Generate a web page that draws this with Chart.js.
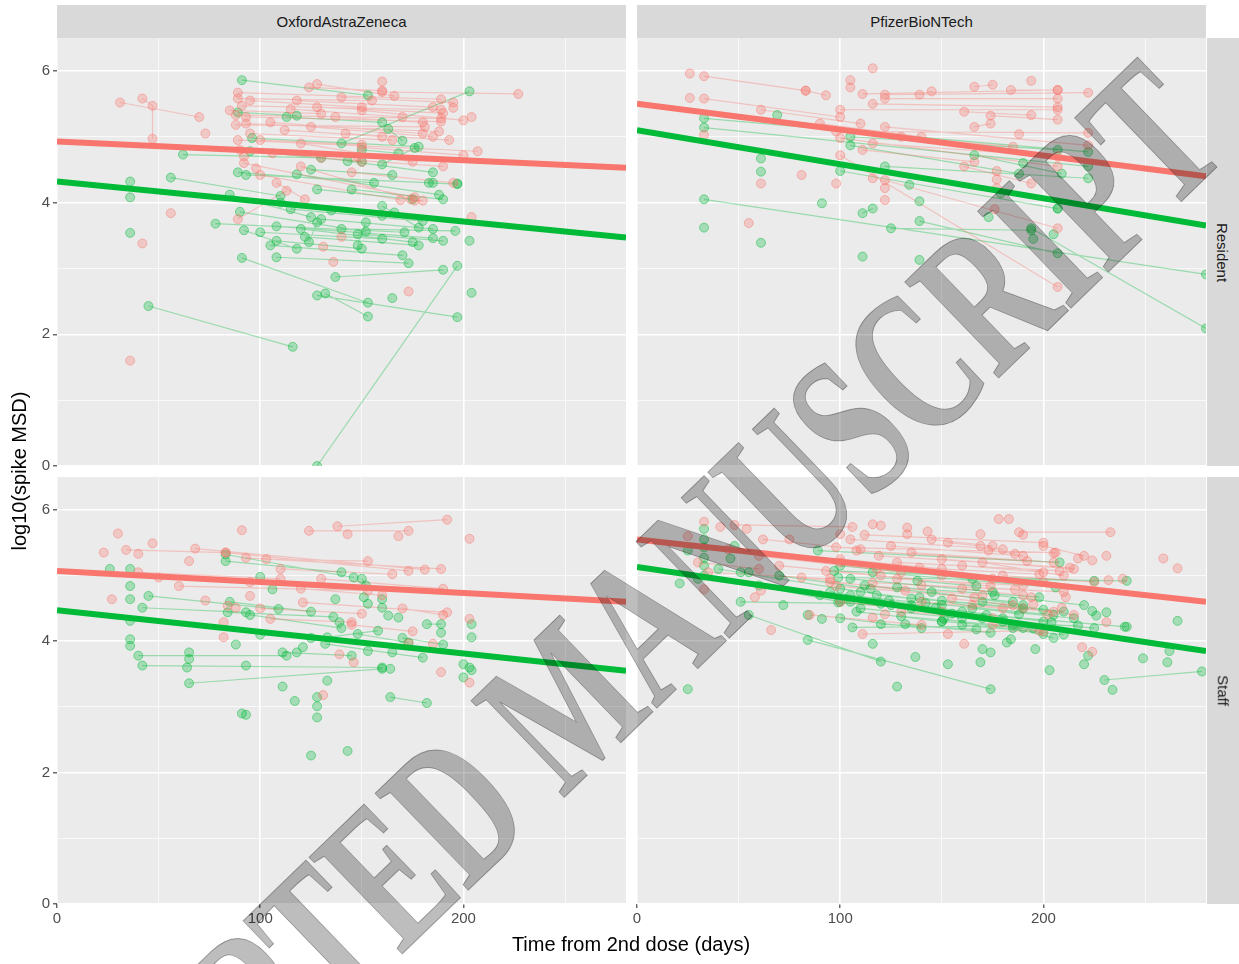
<!DOCTYPE html>
<html>
<head>
<meta charset="utf-8">
<script src="https://cdn.jsdelivr.net/npm/chart.js@4.4.1/dist/chart.umd.min.js"></script>
<style>
  body { margin: 0; background: #fff; }
  #wrap { position: relative; width: 1239px; height: 964px; overflow: hidden; font-family: "Liberation Sans", Arial, sans-serif; }
  #wrap canvas { position: absolute; left: 0; top: 0; }
  .strip { position: absolute; background: #d9d9d9; color: #1a1a1a; font-size: 15px; display: flex; align-items: center; justify-content: center; }
  .strip.side span { transform: rotate(90deg); white-space: nowrap; }
  .title { position: absolute; color: #000; font-size: 20px; white-space: nowrap; }
  #watermark { position: absolute; left: 565px; top: 700px; transform: translate(-50%, -50%) rotate(-44deg) scaleX(0.67);
    font-family: "Liberation Serif", "Times New Roman", serif; font-weight: bold; font-size: 205px; line-height: 1; white-space: nowrap;
    color: rgba(0, 0, 0, 0.26); -webkit-text-stroke: 1px rgba(30, 30, 30, 0.4); pointer-events: none; z-index: 10; }
</style>
</head>
<body>
<div id="wrap">
  <canvas id="azResident" width="1239" height="964"></canvas>
  <canvas id="pfResident" width="1239" height="964"></canvas>
  <canvas id="azStaff" width="1239" height="964"></canvas>
  <canvas id="pfStaff" width="1239" height="964"></canvas>

  <div class="strip" style="left:57px; top:5px; width:569px; height:33px;">OxfordAstraZeneca</div>
  <div class="strip" style="left:637px; top:5px; width:569px; height:33px;">PfizerBioNTech</div>
  <div class="strip side" style="left:1207px; top:38px; width:32px; height:428px;"><span>Resident</span></div>
  <div class="strip side" style="left:1207px; top:477px; width:32px; height:427px;"><span>Staff</span></div>

  <div class="title" style="left:631px; top:944px; transform:translate(-50%,-50%);">Time from 2nd dose (days)</div>
  <div class="title" style="left:19px; top:471px; transform:translate(-50%,-50%) rotate(-90deg);">log10(spike MSD)</div>

  <div id="watermark">ACCEPTED MANUSCRIPT</div>
</div>

<script>
// axis ranges / ticks
const xMax = 280;
const yMax = 6.5;
const xStep = 50;   // minor grid every 50 days, labels every 100
const yStep = 1;    // minor grid every 1, labels every 2
const fitX = [0, 280];

// each subject = [x1, y1, x2, y2, ...] (days, log10 spike MSD)
const azResidentRed = [
  [31,5.52,70,5.30], [42,5.58,47,5.47,47,4.97], [36,1.60], [56,3.84], [42,3.38], [73,5.05],
  [89,5.67,189,5.57], [89,5.58,155,5.55], [91,5.47,189,5.41], [88,5.33,189,5.28], [93,5.30,189,5.23],
  [88,5.18,181,5.15], [93,5.20,188,5.08], [124,5.75,160,5.70], [128,5.80,166,5.62], [160,5.84],
  [160,5.68,227,5.65], [204,5.30], [195,5.44], [89,4.95,207,4.78], [90,4.80,150,4.62],
  [92,4.60,176,4.08], [108,4.30,122,4.05], [100,4.42,169,4.04], [89,3.75,113,4.18], [120,4.55,174,4.05],
  [131,3.33], [136,3.10], [140,3.48], [173,2.65], [204,3.78], [150,4.84,200,4.72], [142,5.05,193,4.95],
  [115,5.42,170,5.30], [105,5.22,180,5.05], [128,5.45,190,5.36], [137,5.30,180,5.22], [112,5.10,160,5.00],
  [95,5.05,165,4.95], [120,4.90,175,4.62], [130,4.68,190,4.55], [145,4.46,195,4.30], [106,4.75,148,4.70],
  [92,4.70], [98,4.52], [176,4.03,180,4.03], [85,5.40,130,5.35], [95,5.55,150,5.45], [118,5.55,185,5.45],
  [140,5.60,195,5.52], [100,4.95,150,4.88], [125,5.15,185,5.00], [150,5.40,200,5.25]
];
const azResidentGreen = [
  [91,5.86,153,5.63], [140,4.90,203,5.69], [89,5.37,118,5.32], [113,5.30,160,5.22], [163,5.12,170,4.94],
  [96,4.98,178,4.85], [62,4.73,130,4.68], [95,4.78,150,4.62], [89,4.46,156,4.30], [93,4.42,185,4.30],
  [56,4.38,110,4.10], [36,4.32], [36,4.08], [36,3.54], [45,2.43,116,1.81], [128,0.00,197,3.04],
  [118,4.43,188,4.12], [128,4.20,175,4.05], [85,4.12,125,3.78], [90,3.86,152,3.56], [78,3.68,171,3.55],
  [92,3.58,118,3.30], [108,3.64,185,3.46], [108,3.42,150,3.30], [120,3.60,175,3.40], [122,3.48,178,3.35],
  [148,3.52,190,3.42], [140,3.60,196,3.57], [108,3.17,173,3.08], [91,3.16,153,2.48], [137,2.87,190,2.98],
  [132,2.62,153,2.27], [128,2.59,197,2.26], [165,2.55], [204,2.63], [203,3.42], [197,4.29],
  [183,4.30,197,4.28], [143,4.63,185,4.46], [150,4.80,168,4.75], [160,4.58,176,4.83], [135,3.88,166,3.85],
  [160,3.95,178,3.62], [124,3.40,128,3.70], [148,3.35,152,3.70], [110,4.00,160,3.80], [115,3.90,180,3.72],
  [130,3.75,185,3.60], [100,3.55,160,3.45], [125,4.50,165,4.42], [105,3.35,170,3.20], [145,4.20,190,4.05]
];
const pfResidentRed = [
  [26,5.96], [33,5.92,83,5.70], [26,5.59], [33,5.58,100,5.30], [33,5.03], [61,5.41,110,5.20], [61,4.29],
  [55,3.69], [81,4.42], [83,5.70,93,5.63], [105,5.86], [105,5.75], [116,6.04], [111,5.65,207,5.71],
  [122,5.64,222,5.67], [122,5.58,207,5.58], [139,5.64,145,5.69], [166,5.76,175,5.79], [184,5.71,207,5.71],
  [194,5.85], [100,5.41,207,5.41], [116,5.50,207,5.45], [161,5.38,194,5.33], [174,5.32,207,5.26],
  [98,5.08,222,5.06], [122,5.15,222,4.87], [188,5.04], [100,4.98,207,4.55], [116,4.90,207,4.70],
  [166,5.15,174,5.20], [100,4.72,207,2.72], [161,4.55,194,4.29], [177,4.48], [177,4.35], [177,4.22],
  [176,3.90], [122,4.34,207,3.61], [116,4.37], [122,4.22], [122,4.04], [98,4.29], [111,4.80,166,4.62],
  [130,5.00,185,4.85], [90,5.20,140,5.00]
];
const pfResidentGreen = [
  [33,5.28,222,4.77], [33,5.14,222,4.55], [69,5.33], [61,4.67], [61,4.47], [33,4.05,280,2.91], [33,3.62],
  [61,3.39], [91,3.99], [111,3.84,116,3.91], [111,3.18], [139,3.13], [105,5.00,207,4.80], [105,4.87,188,4.44],
  [122,4.55,222,4.37], [134,4.27], [139,4.02], [139,3.72,207,3.23], [125,3.61,194,3.58], [100,4.48,207,3.91],
  [166,4.72,209,4.44], [190,4.60], [179,4.14], [173,3.78], [194,3.61,280,2.09], [195,3.45], [205,3.52],
  [207,3.91]
];
const azStaffRed = [
  [23,5.35], [30,5.64], [34,5.39,83,5.35], [40,5.33], [47,5.49], [68,5.41,181,5.09], [65,5.22], [27,4.64],
  [91,5.69], [124,5.68,173,5.68], [138,5.75,192,5.85], [143,5.63], [168,5.60], [203,5.56], [83,5.35,173,5.07],
  [93,5.27,189,5.10], [103,5.25,153,5.22], [60,4.84,153,4.77], [73,4.62], [84,4.54], [95,4.69],
  [121,4.59,192,4.44], [131,3.18], [146,3.68], [189,3.53], [203,4.34], [203,3.37], [185,3.96],
  [105,4.34,145,4.29], [82,4.29], [82,4.06], [173,3.97], [139,3.80], [88,4.51], [40,5.05,110,4.95],
  [50,4.97,95,4.90], [110,5.10,165,5.02], [120,4.80,160,4.70], [130,4.95,190,4.80], [100,4.50,150,4.42],
  [170,4.50,190,4.40], [145,4.25,175,4.15]
];
const azStaffGreen = [
  [36,5.10], [36,4.84], [36,4.64], [36,4.31], [36,4.03], [36,3.93], [26,5.10], [40,3.78,113,3.78],
  [42,3.63,160,3.60], [45,4.69,109,4.49], [42,4.51,93,4.44], [65,3.83], [65,3.73], [65,3.36,160,3.58],
  [64,3.60], [93,3.63], [83,5.32,146,4.97], [83,5.22,140,5.05], [91,2.90], [93,2.88], [111,3.31], [117,3.09],
  [128,3.15], [128,3.01], [128,2.84], [125,2.26], [143,2.33], [133,3.40], [164,3.15,182,3.06], [100,4.98],
  [106,4.79], [84,4.44,136,4.37], [88,3.95], [111,3.83,145,3.78], [118,3.83], [121,3.91], [132,3.96,180,3.75],
  [137,4.64], [151,4.67], [153,4.57], [160,4.64], [160,4.51], [163,4.39], [168,4.36], [182,4.26,189,4.26],
  [189,4.13], [204,4.26], [204,4.06], [200,3.65], [203,3.60], [204,3.56], [200,3.45], [153,3.85], [165,3.83],
  [164,3.58], [148,4.11,173,3.98], [139,4.29], [133,4.06,158,4.16], [95,4.40,140,4.20], [100,4.10,125,4.05],
  [85,4.60,125,4.45], [150,4.95,152,4.85], [170,4.05,190,3.95]
];
const pfStaffRed = [
  [33,5.82], [25,5.60], [41,5.74], [48,5.77,106,5.74], [54,5.71], [75,5.55], [100,5.63], [116,5.78],
  [120,5.76], [133,5.73], [133,5.63], [143,5.67], [188,5.66,233,5.66], [178,5.86], [183,5.86], [169,5.63],
  [190,5.62], [205,5.34], [217,5.26], [224,5.23], [231,5.30], [259,5.26], [266,5.11], [232,4.93], [239,4.95],
  [219,3.91], [224,3.84], [111,4.11,198,4.16], [66,4.17], [58,4.67], [61,4.77], [33,4.79], [161,3.96],
  [209,4.51], [231,4.29], [98,5.43,206,5.35], [108,5.38,192,5.22], [119,5.30,213,5.12], [128,5.20,208,5.07],
  [139,5.12,198,5.02], [153,5.50,169,5.45], [173,5.38,186,5.33], [93,5.07,174,4.84], [98,4.84,166,4.67],
  [116,4.89,186,4.79], [81,4.97,132,4.77], [116,4.36], [122,4.41], [153,4.11], [194,4.67], [195,4.56],
  [211,4.67], [202,4.41], [30,5.20,60,5.10], [35,5.05,95,4.95], [45,5.40,100,5.20], [60,5.30,130,5.05],
  [150,5.00,200,4.90], [160,4.80,190,4.70], [140,4.60,180,4.50], [170,5.20,210,5.00], [130,4.45,175,4.35],
  [100,4.60,150,4.45], [200,5.45,220,5.30], [105,5.55,180,5.40], [112,5.62,200,5.50], [125,5.45,190,5.30],
  [135,5.35,205,5.20], [145,5.55,175,5.45], [150,5.25,215,5.10], [160,5.15,200,5.05], [100,5.25,150,5.10],
  [118,5.10,175,4.95], [128,4.95,190,4.85], [140,4.85,210,4.75], [165,4.55,205,4.45], [180,5.00,225,4.90],
  [190,4.50,215,4.40], [62,5.55,110,5.40], [70,5.15,120,5.00], [85,4.40,140,4.25], [95,4.90,170,4.70],
  [155,4.65,185,4.55], [175,4.25,200,4.15]
];
const pfStaffGreen = [
  [33,5.71], [33,5.55], [33,5.43], [33,5.27], [33,5.15], [25,5.38], [21,4.88], [25,3.27], [46,5.26],
  [48,5.45], [51,5.05], [55,5.05], [51,4.60,120,4.57], [55,4.40,120,3.69], [72,4.55], [84,4.40],
  [84,4.02,174,3.27], [91,4.34], [89,5.38,208,5.20], [97,5.07,225,4.92], [99,4.97,241,4.92], [99,4.59,241,4.22],
  [106,4.21,217,4.24], [116,3.96], [128,3.31], [137,3.76], [153,3.65], [169,3.68], [170,3.88], [174,3.83],
  [196,3.88], [203,3.56], [220,3.65], [222,3.78], [230,3.41,278,3.54], [234,3.26], [249,3.74], [261,3.68],
  [262,3.85], [266,4.31], [182,3.98], [184,4.03], [224,4.46], [226,4.39], [231,4.44], [240,4.22],
  [116,5.05,206,4.82], [128,4.82,198,4.67], [139,4.67,188,4.41], [147,4.51,204,4.29], [151,4.34,200,4.11],
  [132,4.26,174,4.13], [120,4.26,167,4.18], [138,4.92,167,4.84], [33,5.00,100,4.60], [40,5.10,110,4.75],
  [30,4.95,90,4.70], [105,4.70,150,4.55], [110,4.50,160,4.35], [125,4.55,180,4.30], [160,4.45,200,4.30],
  [145,4.75,190,4.55], [170,4.60,210,4.45], [150,4.30,190,4.20], [100,4.80,135,4.65], [100,5.15,165,4.95],
  [105,4.95,175,4.75], [112,4.85,185,4.60], [118,4.70,190,4.50], [124,4.62,172,4.40], [130,4.38,195,4.20],
  [135,4.50,180,4.35], [142,4.58,205,4.40], [150,4.62,200,4.48], [155,4.42,185,4.25], [160,4.25,210,4.10],
  [165,4.50,215,4.35], [170,4.35,225,4.20], [100,4.35,140,4.20], [95,4.75,135,4.55], [108,4.45,150,4.30],
  [176,4.70,220,4.55], [185,4.20,205,4.05], [60,4.85,105,4.60], [70,5.00,115,4.80]
];

// fitted lines, y at fitX
const azResidentFitRed = [4.93, 4.53];
const azResidentFitGreen = [4.32, 3.47];
const pfResidentFitRed = [5.50, 4.40];
const pfResidentFitGreen = [5.10, 3.65];
const azStaffFitRed = [5.07, 4.60];
const azStaffFitGreen = [4.47, 3.55];
const pfStaffFitRed = [5.55, 4.60];
const pfStaffFitGreen = [5.13, 3.85];

const RED = '#F8766D';
const GREEN = '#00BA38';
const tickFont = { family: '"Liberation Sans", Arial, sans-serif', size: 15 };

// grey panel background, like ggplot
const panelBg = {
  id: 'panelBg',
  beforeDraw(chart) {
    const { ctx, chartArea: a } = chart;
    ctx.save();
    ctx.fillStyle = '#ebebeb';
    ctx.fillRect(a.left, a.top, a.right - a.left, a.bottom - a.top);
    ctx.restore();
  }
};

function linePoints(subjects) {
  const out = [];
  subjects.forEach(s => {
    for (let i = 0; i < s.length; i += 2) out.push({ x: s[i], y: s[i + 1] });
    out.push({ x: null, y: null });
  });
  return out;
}
function dotPoints(subjects) {
  const out = [];
  subjects.forEach(s => {
    for (let i = 0; i < s.length; i += 2) out.push({ x: s[i], y: s[i + 1] });
  });
  return out;
}

function makePanel(id, red, green, fitRed, fitGreen, box, showX, showY) {
  const ctx = document.getElementById(id).getContext('2d');
  // axis boxes take the space left of / below the panel when they carry labels
  const yWidth = showY ? box[0] : 0;
  const xHeight = showX ? 964 - box[3] : 0;
  const datasets = [
    { data: fitX.map((x, i) => ({ x: x, y: fitRed[i] })), showLine: true, borderColor: RED, borderWidth: 6, pointRadius: 0, order: 1 },
    { data: fitX.map((x, i) => ({ x: x, y: fitGreen[i] })), showLine: true, borderColor: GREEN, borderWidth: 6, pointRadius: 0, order: 1 },
    { data: dotPoints(red), pointRadius: 4.5, backgroundColor: 'rgba(248,118,109,0.3)', borderColor: 'rgba(248,118,109,0.45)', borderWidth: 1, order: 3 },
    { data: dotPoints(green), pointRadius: 4.5, backgroundColor: 'rgba(0,186,56,0.3)', borderColor: 'rgba(0,186,56,0.45)', borderWidth: 1, order: 3 },
    { data: linePoints(red), showLine: true, borderColor: 'rgba(248,118,109,0.35)', borderWidth: 1.2, pointRadius: 0, order: 5 },
    { data: linePoints(green), showLine: true, borderColor: 'rgba(0,186,56,0.35)', borderWidth: 1.2, pointRadius: 0, order: 5 }
  ];
  return new Chart(ctx, {
    type: 'scatter',
    data: { datasets: datasets },
    options: {
      responsive: false,
      animation: false,
      events: [],
      layout: { padding: { left: box[0] - yWidth, top: box[1], right: 1239 - box[2], bottom: 964 - box[3] - xHeight } },
      plugins: { legend: { display: false }, tooltip: { enabled: false } },
      scales: {
        x: {
          type: 'linear', min: 0, max: xMax,
          border: { display: false },
          grid: {
            color: '#ffffff',
            lineWidth: c => (c.tick && c.tick.value % 100 === 0) ? 1.6 : 0.7,
            drawTicks: showX, tickLength: 4, tickWidth: 1.1,
            tickColor: c => (c.tick && c.tick.value % 100 === 0) ? '#333333' : 'rgba(0,0,0,0)'
          },
          ticks: {
            display: showX, stepSize: xStep, includeBounds: false, autoSkip: false, maxRotation: 0,
            color: '#4d4d4d', font: tickFont, padding: 2,
            callback: v => v % 100 === 0 ? v : ''
          },
          afterFit: s => { s.height = xHeight; }
        },
        y: {
          type: 'linear', min: 0, max: yMax,
          border: { display: false },
          grid: {
            color: '#ffffff',
            lineWidth: c => (c.tick && c.tick.value % 2 === 0) ? 1.6 : 0.7,
            drawTicks: showY, tickLength: 4, tickWidth: 1.1,
            tickColor: c => (c.tick && c.tick.value % 2 === 0) ? '#333333' : 'rgba(0,0,0,0)'
          },
          ticks: {
            display: showY, stepSize: yStep, includeBounds: false, autoSkip: false,
            color: '#4d4d4d', font: tickFont, padding: 3,
            callback: v => v % 2 === 0 ? v : ''
          },
          afterFit: s => { s.width = yWidth; }
        }
      }
    },
    plugins: [panelBg]
  });
}

makePanel('azResident', azResidentRed, azResidentGreen, azResidentFitRed, azResidentFitGreen, [57, 38, 626, 466], false, true);
makePanel('pfResident', pfResidentRed, pfResidentGreen, pfResidentFitRed, pfResidentFitGreen, [637, 38, 1206, 466], false, false);
makePanel('azStaff', azStaffRed, azStaffGreen, azStaffFitRed, azStaffFitGreen, [57, 477, 626, 904], true, true);
makePanel('pfStaff', pfStaffRed, pfStaffGreen, pfStaffFitRed, pfStaffFitGreen, [637, 477, 1206, 904], true, false);
</script>
</body>
</html>
